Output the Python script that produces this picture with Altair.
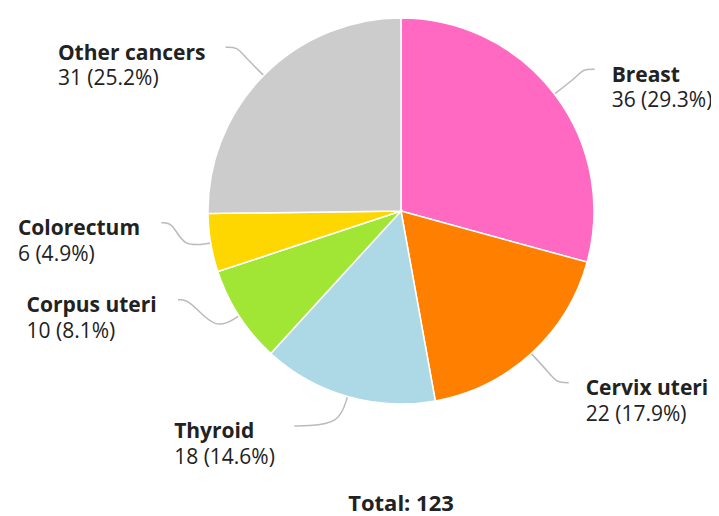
import math
import altair as alt
import pandas as pd

# ---------------- data ----------------
categories = ["Breast", "Cervix uteri", "Thyroid", "Corpus uteri", "Colorectum", "Other cancers"]
counts = [36, 22, 18, 10, 6, 31]
colors = ["#FF69C1", "#FF7F00", "#ADD8E6", "#A2E635", "#FFD700", "#CCCCCC"]

# ---------------- layout ----------------
W, H = 703, 506           # view size (page margin 8px)
cx, cy = 393, 203         # pie centre in view pixels
R = 193                   # pie radius
L1 = 28                   # radial part of connector
R_END = 240               # radius on which connector ends lie
H_SEG = 12                # horizontal part of connector
label_nudge_deg = [1.1, -1.9, 10.3, 11.2, 6.7, -1.6]   # label spreading (overlap avoidance)
FS = 21
TEXT = "#222222"
LINE = "#BBBBBB"

total = sum(counts)

# approximate advance widths (em) for block alignment of left-side labels
REG = {**{d: 0.572 for d in "0123456789"}, " ": 0.26, "(": 0.296, ")": 0.296, ".": 0.266, "%": 0.838}
BOLD = {"O": 0.80, "t": 0.45, "h": 0.67, "e": 0.60, "r": 0.45, " ": 0.26, "c": 0.51, "a": 0.60,
        "n": 0.67, "s": 0.51, "C": 0.67, "o": 0.63, "l": 0.31, "u": 0.67, "m": 1.0, "p": 0.64,
        "i": 0.31, "T": 0.64, "y": 0.59, "d": 0.64, "B": 0.72, "x": 0.58, "v": 0.59}


def tw(s, table):
    return sum(table.get(ch, 0.6) for ch in s) * FS


def pt(rad, ang_deg):
    a = math.radians(ang_deg)
    return cx + rad * math.sin(a), cy - rad * math.cos(a)


pie_rows, line_rows, lab_rows = [], [], []
cum = 0
for i, (cat, v) in enumerate(zip(categories, counts)):
    pie_rows.append({"cat": cat, "value": v, "idx": i})
    mid = (cum + v / 2) / total * 360
    cum += v
    ang = mid + label_nudge_deg[i]
    ex, ey = pt(R, mid)
    px, py = pt(R + L1, mid)
    endx, endy = pt(R_END, ang)
    side = 1 if math.sin(math.radians(ang)) > 0 else -1
    hx = endx - side * H_SEG
    for k, (x, y) in enumerate([(ex, ey), (px, py), (hx, endy), (endx, endy)]):
        line_rows.append({"cat": cat, "k": k, "x": x, "y": y})
    name = cat
    val = f"{v} ({v / total * 100:.1f}%)"
    if side > 0:
        tx = endx + 17
    else:
        block = max(tw(name, BOLD), tw(val, REG))
        tx = endx - 19 - block
    lab_rows.append({"name": name, "val": val, "tx": tx, "ty1": endy + 12.5, "ty2": endy + 38})

df_pie = pd.DataFrame(pie_rows)
df_line = pd.DataFrame(line_rows)
df_lab = pd.DataFrame(lab_rows)
df_tot = pd.DataFrame([{"t": f"Total: {total}", "x": cx, "y": 503}])

xs = alt.Scale(domain=[0, W], nice=False, zero=False)
ys = alt.Scale(domain=[H, 0], nice=False, zero=False)

pie = alt.Chart(df_pie).mark_arc(radius=R, stroke="white", strokeWidth=1.5).encode(
    theta=alt.Theta("value:Q", stack=True),
    order=alt.Order("idx:Q"),
    color=alt.Color("cat:N", scale=alt.Scale(domain=categories, range=colors), legend=None),
    x=alt.value(cx),
    y=alt.value(cy),
)

lines = alt.Chart(df_line).mark_line(interpolate="basis", color=LINE, strokeWidth=1.5).encode(
    x=alt.X("x:Q", scale=xs, axis=None),
    y=alt.Y("y:Q", scale=ys, axis=None),
    detail="cat:N",
    order=alt.Order("k:Q"),
)

names = alt.Chart(df_lab).mark_text(align="left", baseline="alphabetic", font="Open Sans",
                                    fontSize=FS, fontWeight="bold", color=TEXT).encode(
    x=alt.X("tx:Q", scale=xs, axis=None), y=alt.Y("ty1:Q", scale=ys, axis=None), text="name:N")

vals = alt.Chart(df_lab).mark_text(align="left", baseline="alphabetic", font="Open Sans",
                                   fontSize=FS, color=TEXT).encode(
    x=alt.X("tx:Q", scale=xs, axis=None), y=alt.Y("ty2:Q", scale=ys, axis=None), text="val:N")

tot = alt.Chart(df_tot).mark_text(align="center", baseline="alphabetic", font="Open Sans",
                                  fontSize=22, fontWeight="bold", color=TEXT).encode(
    x=alt.X("x:Q", scale=xs, axis=None), y=alt.Y("y:Q", scale=ys, axis=None), text="t:N")

chart = alt.layer(lines, pie, names, vals, tot).properties(
    width=W, height=H, autosize="none", padding=0
).configure_view(stroke=None)

chart.save("out.html", embed_options={"renderer": "svg", "actions": False})
